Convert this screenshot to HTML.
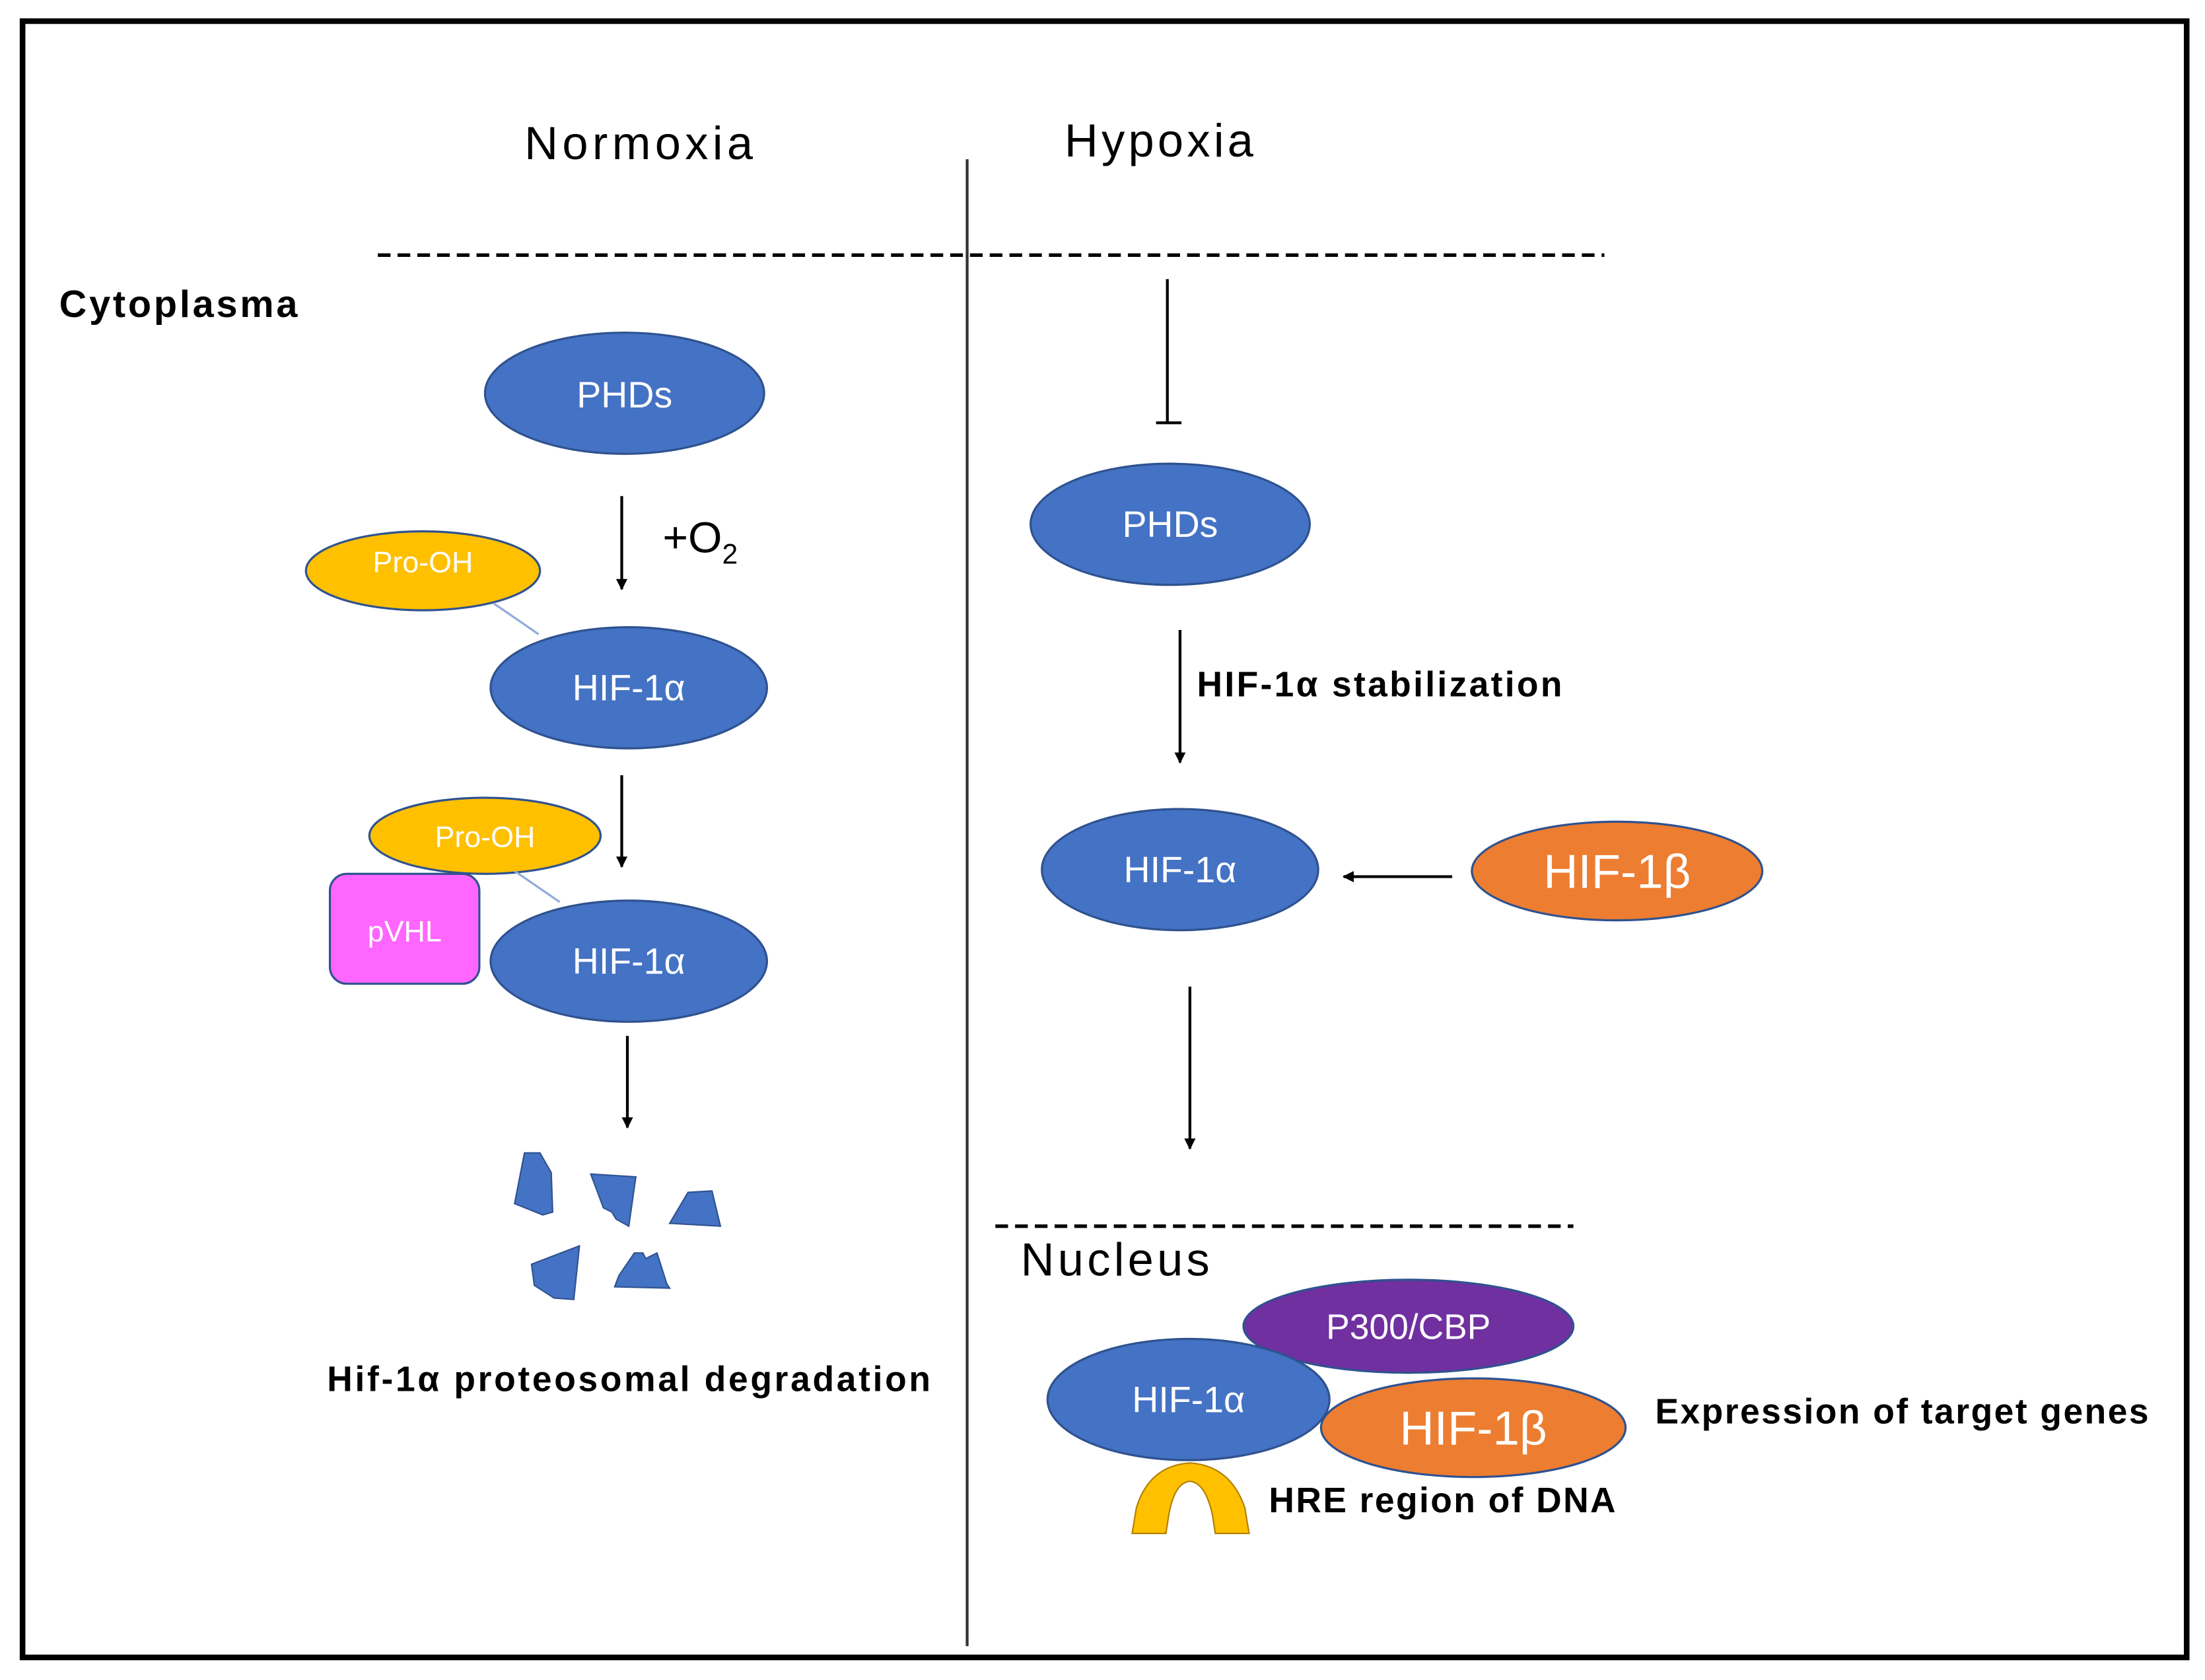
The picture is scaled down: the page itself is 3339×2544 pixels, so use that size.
<!DOCTYPE html>
<html><head><meta charset="utf-8"><style>html,body{margin:0;padding:0;background:#fff}svg{display:block}</style></head>
<body>
<svg width="3339" height="2544" viewBox="0 0 1564 1192" preserveAspectRatio="none" xmlns="http://www.w3.org/2000/svg" font-family="Liberation Sans, sans-serif">
<defs><marker id="a" viewBox="0 0 10 10" refX="9" refY="5" markerWidth="4" markerHeight="4" orient="auto"><path d="M0,0L10,5L0,10z" fill="#000"/></marker></defs>
<rect x="0" y="0" width="1564" height="1192" fill="#fff"/>
<rect x="16" y="15" width="1535" height="1161" fill="none" stroke="#000" stroke-width="4"/>
<line x1="686" y1="113" x2="686" y2="1168" stroke="#333" stroke-width="2"/>
<line x1="268" y1="181" x2="1138" y2="181" stroke="#000" stroke-width="2.5" stroke-dasharray="9,5"/>
<text x="453" y="113" font-size="33" text-anchor="middle" textLength="162">Normoxia</text>
<text x="822" y="111" font-size="33" text-anchor="middle" textLength="134">Hypoxia</text>
<text x="42" y="225" font-size="27" font-weight="bold" textLength="169">Cytoplasma</text>
<g stroke="#2F528F" stroke-width="1.5">
<ellipse cx="443" cy="279" rx="99" ry="43" fill="#4472C4"/>
<ellipse cx="300" cy="405" rx="83" ry="28" fill="#FFC000"/>
<ellipse cx="446" cy="488" rx="98" ry="43" fill="#4472C4"/>
<ellipse cx="344" cy="593" rx="82" ry="27" fill="#FFC000"/>
<rect x="234" y="620" width="106" height="78" rx="12" fill="#FF66FF"/>
<ellipse cx="446" cy="682" rx="98" ry="43" fill="#4472C4"/>
<ellipse cx="830" cy="372" rx="99" ry="43" fill="#4472C4"/>
<ellipse cx="837" cy="617" rx="98" ry="43" fill="#4472C4"/>
<ellipse cx="1147" cy="618" rx="103" ry="35" fill="#ED7D31"/>
<ellipse cx="999" cy="941" rx="117" ry="33" fill="#7030A0"/>
<ellipse cx="843" cy="993" rx="100" ry="43" fill="#4472C4"/>
<ellipse cx="1045" cy="1013" rx="108" ry="35" fill="#ED7D31"/>
</g>
<line x1="350" y1="428" x2="382" y2="450" stroke="#8FAADC" stroke-width="1.5"/>
<line x1="365" y1="618" x2="397" y2="640" stroke="#8FAADC" stroke-width="1.5"/>
<path d="M803,1088 L806,1070 Q815,1040 844,1038 Q873,1040 883,1070 L886,1088 L862,1088 L860,1075 Q855,1052 844,1051 Q833,1052 829,1075 L827,1088 Z" fill="#FFC000" stroke="#B08000" stroke-width="1"/>
<g fill="#4472C4" stroke="#2F528F" stroke-width="1">
<path d="M372,818 L383,818 L391,832 L392,860 L385,862 L365,854 Z"/>
<path d="M419,833 L451,835 L446,870 L437,865 L434,860 L428,857 Z"/>
<path d="M488,846 L505,845 L511,870 L475,868 Z"/>
<path d="M411,884 L407,922 L393,921 L379,912 L377,897 Z"/>
<path d="M450,889 L456,889 L458,893 L466,889 L473,911 L475,914 L436,913 L439,905 Z"/>
</g>
<g stroke="#000" stroke-width="2" marker-end="url(#a)">
<line x1="441" y1="352" x2="441" y2="418"/>
<line x1="441" y1="550" x2="441" y2="615"/>
<line x1="445" y1="735" x2="445" y2="800"/>
<line x1="837" y1="447" x2="837" y2="541"/>
<line x1="1030" y1="622" x2="953" y2="622"/>
<line x1="844" y1="700" x2="844" y2="815"/>
</g>
<line x1="828" y1="198" x2="828" y2="300" stroke="#000" stroke-width="2"/>
<line x1="820" y1="300" x2="838" y2="300" stroke="#000" stroke-width="2"/>
<line x1="706" y1="870" x2="1116" y2="870" stroke="#000" stroke-width="2.5" stroke-dasharray="9,5"/>
<g fill="#fff" text-anchor="middle">
<text x="443" y="289" font-size="26">PHDs</text>
<text x="300" y="406" font-size="21">Pro-OH</text>
<text x="446" y="497" font-size="26">HIF-1α</text>
<text x="344" y="601" font-size="21">Pro-OH</text>
<text x="287" y="668" font-size="21">pVHL</text>
<text x="446" y="691" font-size="26">HIF-1α</text>
<text x="830" y="381" font-size="26">PHDs</text>
<text x="837" y="626" font-size="26">HIF-1α</text>
<text x="1147" y="630" font-size="34">HIF-1β</text>
<text x="999" y="950" font-size="25">P300/CBP</text>
<text x="843" y="1002" font-size="26">HIF-1α</text>
<text x="1045" y="1025" font-size="34">HIF-1β</text>
</g>
<text x="470" y="392" font-size="31">+O<tspan font-size="20" dy="8">2</tspan></text>
<text x="849" y="494" font-size="25" font-weight="bold" textLength="259">HIF-1α stabilization</text>
<text x="232" y="987" font-size="25" font-weight="bold" textLength="428">Hif-1α proteosomal degradation</text>
<text x="724" y="905" font-size="33" textLength="134">Nucleus</text>
<text x="1174" y="1010" font-size="25" font-weight="bold" textLength="350">Expression of target genes</text>
<text x="900" y="1073" font-size="25" font-weight="bold" textLength="246">HRE region of DNA</text>
</svg>
</body></html>
